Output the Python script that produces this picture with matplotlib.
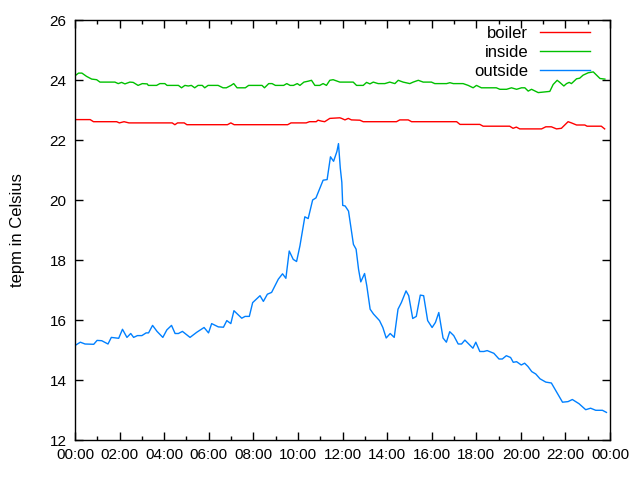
import matplotlib
matplotlib.use("Agg")
import matplotlib.pyplot as plt
from matplotlib.ticker import MultipleLocator

plt.rcParams['font.family'] = ['Liberation Sans', 'DejaVu Sans']

# outside temperature: (hour, value)
outside_h = [0, 0.24, 0.45, 0.84, 0.99, 1.2, 1.48, 1.63, 1.96, 2.13, 2.33, 2.5, 2.63,
             2.8, 3.0, 3.19, 3.3, 3.48, 3.68, 3.94, 4.12, 4.33, 4.49, 4.64, 4.82, 5.16,
             5.46, 5.79, 5.99, 6.13, 6.43, 6.66, 6.81, 6.99, 7.13, 7.48, 7.63, 7.82,
             7.97, 8.3, 8.45, 8.63, 8.82, 9.12, 9.31, 9.46, 9.61, 9.79, 9.94, 10.09,
             10.31, 10.46, 10.66, 10.81, 11.13, 11.31, 11.46, 11.6, 11.75, 11.82, 11.9,
             11.97, 12.01, 12.12, 12.27, 12.37, 12.49, 12.61, 12.72, 12.82, 12.99, 13.09,
             13.24, 13.39, 13.66, 13.81, 13.96, 14.14, 14.32, 14.49, 14.64, 14.85, 14.97,
             15.15, 15.31, 15.49, 15.64, 15.82, 16.02, 16.17, 16.32, 16.51, 16.66, 16.81,
             16.99, 17.19, 17.34, 17.49, 17.85, 17.98, 18.16, 18.34, 18.49, 18.79, 19.02,
             19.17, 19.35, 19.54, 19.66, 19.81, 20.02, 20.17, 20.32, 20.49, 20.67, 20.86,
             21.12, 21.37, 21.61, 21.87, 22.12, 22.31, 22.61, 22.91, 23.13, 23.36, 23.66,
             23.84]
outside_v = [15.15, 15.26, 15.2, 15.19, 15.32, 15.31, 15.2, 15.42, 15.39, 15.69, 15.42,
             15.55, 15.42, 15.48, 15.48, 15.57, 15.57, 15.82, 15.62, 15.42, 15.67, 15.82,
             15.55, 15.55, 15.62, 15.42, 15.59, 15.75, 15.57, 15.88, 15.77, 15.76, 15.98,
             15.88, 16.31, 16.06, 16.12, 16.12, 16.58, 16.81, 16.62, 16.86, 16.92, 17.36,
             17.54, 17.39, 18.3, 18.02, 17.95, 18.47, 19.44, 19.38, 20.0, 20.07, 20.66,
             20.68, 21.44, 21.29, 21.62, 21.88, 21.07, 20.59, 19.82, 19.8, 19.63, 19.13,
             18.52, 18.36, 17.69, 17.27, 17.55, 17.14, 16.36, 16.2, 15.98, 15.75, 15.4,
             15.55, 15.42, 16.36, 16.58, 16.97, 16.81, 16.05, 16.12, 16.83, 16.81, 15.98,
             15.75, 15.92, 16.25, 15.4, 15.26, 15.61, 15.48, 15.2, 15.2, 15.33, 15.06,
             15.26, 14.95, 14.95, 14.98, 14.89, 14.7, 14.7, 14.81, 14.75, 14.59, 14.61,
             14.5, 14.56, 14.45, 14.28, 14.2, 14.04, 13.93, 13.9, 13.59, 13.26, 13.28,
             13.35, 13.21, 13.01, 13.06, 12.99, 12.99, 12.92]

# inside temperature
inside_h = [0, 0.16, 0.31, 0.52, 0.75, 0.97, 1.12, 1.79, 1.94, 2.09, 2.24, 2.46, 2.61,
            2.83, 3.02, 3.24, 3.29, 3.66, 3.81, 4.03, 4.13, 4.5, 4.64, 4.78, 4.93, 5.08,
            5.22, 5.37, 5.52, 5.71, 5.82, 5.97, 6.42, 6.64, 6.79, 7.0, 7.12, 7.27, 7.64,
            7.79, 8.39, 8.5, 8.69, 8.84, 8.99, 9.36, 9.5, 9.65, 9.8, 9.97, 10.09, 10.27,
            10.46, 10.61, 10.76, 10.98, 11.13, 11.28, 11.43, 11.58, 11.88, 12.48, 12.63,
            12.93, 13.08, 13.23, 13.38, 13.6, 13.9, 14.12, 14.35, 14.5, 14.72, 15.02,
            15.17, 15.4, 15.62, 15.99, 16.14, 16.67, 16.82, 16.97, 17.41, 17.64, 17.86,
            18.01, 18.23, 18.9, 19.06, 19.36, 19.58, 19.81, 20.03, 20.18, 20.33, 20.48,
            20.78, 21.3, 21.45, 21.63, 21.75, 21.93, 22.05, 22.17, 22.27, 22.5, 22.64,
            22.79, 23.02, 23.25, 23.4, 23.55, 23.77]
inside_v = [24.14, 24.23, 24.23, 24.12, 24.03, 24.01, 23.93, 23.93, 23.88, 23.92, 23.87,
            23.93, 23.92, 23.82, 23.88, 23.87, 23.82, 23.82, 23.88, 23.88, 23.82, 23.82,
            23.82, 23.74, 23.82, 23.8, 23.82, 23.74, 23.82, 23.82, 23.74, 23.82, 23.82,
            23.74, 23.74, 23.82, 23.88, 23.74, 23.74, 23.82, 23.82, 23.74, 23.88, 23.88,
            23.82, 23.82, 23.88, 23.82, 23.82, 23.88, 23.82, 23.93, 23.96, 23.99, 23.82,
            23.82, 23.88, 23.82, 23.99, 24.01, 23.93, 23.93, 23.82, 23.82, 23.92, 23.87,
            23.93, 23.88, 23.88, 23.93, 23.88, 23.99, 23.93, 23.88, 23.93, 23.99, 23.93,
            23.93, 23.88, 23.88, 23.91, 23.88, 23.88, 23.82, 23.74, 23.82, 23.74, 23.74,
            23.69, 23.69, 23.74, 23.69, 23.74, 23.74, 23.63, 23.69, 23.58, 23.62, 23.85,
            23.99, 23.92, 23.8, 23.88, 23.92, 23.88, 24.04, 24.06, 24.16, 24.24, 24.27,
            24.16, 24.05, 24.03]

# boiler temperature
boiler_h = [0, 0.68, 0.83, 1.87, 1.99, 2.2, 2.42, 4.36, 4.48, 4.6, 4.9, 5.02, 6.84,
            6.99, 7.14, 9.54, 9.69, 10.37, 10.52, 10.82, 10.9, 11.05, 11.2, 11.43, 11.88,
            11.96, 12.11, 12.26, 12.4, 12.78, 12.93, 14.42, 14.57, 14.95, 15.1, 17.12,
            17.27, 18.16, 18.31, 19.5, 19.65, 19.8, 19.95, 20.93, 21.12, 21.37, 21.6,
            21.82, 21.97, 22.12, 22.27, 22.5, 22.87, 22.97, 23.61, 23.76]
boiler_v = [22.68, 22.68, 22.61, 22.61, 22.57, 22.61, 22.57, 22.57, 22.51, 22.57,
            22.57, 22.51, 22.51, 22.57, 22.51, 22.51, 22.57, 22.57, 22.61, 22.61, 22.66,
            22.63, 22.61, 22.72, 22.74, 22.72, 22.67, 22.72, 22.67, 22.66, 22.61, 22.61,
            22.67, 22.67, 22.61, 22.61, 22.52, 22.52, 22.46, 22.46, 22.39, 22.43, 22.37,
            22.37, 22.44, 22.44, 22.37, 22.39, 22.5, 22.61, 22.57, 22.5, 22.5, 22.46,
            22.46, 22.37]

xtick_labels = ['00:00', '02:00', '04:00', '06:00', '08:00', '10:00', '12:00',
                '14:00', '16:00', '18:00', '20:00', '22:00', '00:00']
yticks = [12, 14, 16, 18, 20, 22, 24, 26]

fig = plt.figure(figsize=(6.4, 4.8), dpi=100)
ax = fig.add_axes([75/640, 40/480, 535/640, 420/480])

ax.plot(boiler_h, boiler_v, color='#ff0000', lw=1.0, label='boiler')
ax.plot(inside_h, inside_v, color='#00c000', lw=1.0, label='inside')
ax.plot(outside_h, outside_v, color='#0080ff', lw=1.0, label='outside')

ax.set_xlim(0, 24)
ax.set_ylim(12, 26)
ax.set_xticks(range(0, 25, 2))
ax.set_xticklabels(xtick_labels)
ax.xaxis.set_minor_locator(MultipleLocator(1))
ax.set_yticks(yticks)
ax.set_yticklabels([str(v) for v in yticks])

ax.tick_params(which='both', direction='in', top=True, right=True,
               labelsize=11, colors='black', pad=6)
ax.tick_params(which='major', length=6, width=1)
ax.tick_params(which='minor', length=3, width=1)
for s in ax.spines.values():
    s.set_linewidth(1.0)

ax.set_ylabel('tepm in Celsius', fontsize=12, labelpad=18)

leg = ax.legend(loc='upper right', frameon=False, fontsize=12, markerfirst=False,
                handlelength=3.0, handletextpad=0.7, borderaxespad=0.0,
                labelspacing=0.25, borderpad=0.0,
                bbox_to_anchor=(590/640, 1 - 26/480), bbox_transform=fig.transFigure)
for t in leg.get_texts():
    t.set_ha('right')

fig.savefig('out.png', dpi=100)
